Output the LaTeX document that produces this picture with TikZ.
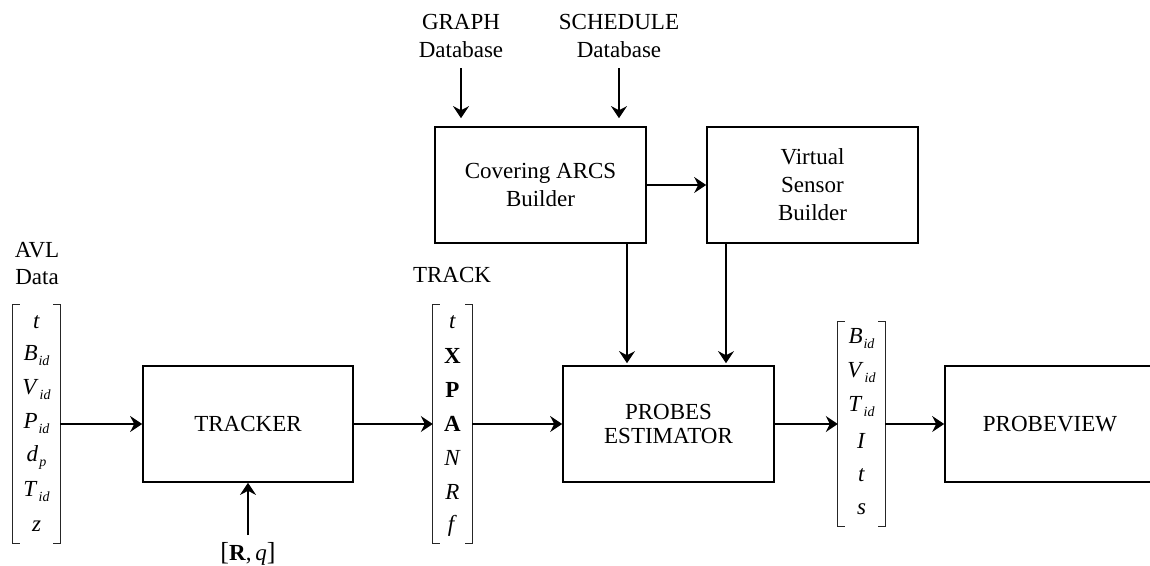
\documentclass[tikz,border=0pt]{standalone}
\usepackage{fontspec}
\setmainfont{Liberation Serif}
\usetikzlibrary{arrows.meta}
\newcommand{\vsb}[2]{\textit{#1}\hspace{1pt}\raisebox{-5pt}{\fontsize{14}{14}\selectfont\textit{#2}}}
\begin{document}
\begin{tikzpicture}[x=1pt,y=-1pt,
  box/.style={draw, line width=1.7pt, inner sep=0pt, align=center, minimum width=210, minimum height=116, font=\fontsize{23}{28}\selectfont},
  arr/.style={line width=1.5pt, -{Stealth[length=12pt,width=16pt,inset=4pt]}},
  lbl/.style={align=center, inner sep=0pt, font=\fontsize{23}{27}\selectfont},
  ent/.style={inner sep=0pt, font=\fontsize{23}{23}\selectfont},
  brk/.style={line width=1pt, black!85},
  vec/.style={inner sep=0pt}
]
\useasboundingbox (0,0) rectangle (1150,565);

% boxes
\node[box] (tracker) at (248,424) {TRACKER};
\node[box, minimum width=211, font=\fontsize{23}{24}\selectfont] (probes) at (668.5,424) {PROBES\\ESTIMATOR};
\node[box] (probeview) at (1050,424) {PROBEVIEW};
\node[box, minimum width=211] (cov) at (540.5,185) {Covering ARCS\\Builder};
\node[box, minimum width=211] (virt) at (812.5,185) {Virtual\\Sensor\\Builder};

% vectors
\node[vec, minimum width=47, minimum height=238] (avl) at (36.5,424) {};
\node[vec, minimum width=39, minimum height=238] (track) at (452.5,424) {};
\node[vec, minimum width=47, minimum height=204] (out) at (861.5,424) {};
\foreach \v in {avl,track,out}{
  \draw[brk] ([xshift=7]\v.north west) -- (\v.north west) -- (\v.south west) -- ([xshift=7]\v.south west);
  \draw[brk] ([xshift=-7]\v.north east) -- (\v.north east) -- (\v.south east) -- ([xshift=-7]\v.south east);
}
\foreach \t [count=\i from 0] in {\textit{t},\vsb{B}{id},\vsb{V}{id},\vsb{P}{id},\vsb{d}{p},\vsb{T}{id},\textit{z}}
  \node[ent] (avl-\i) at (36.5,322+34*\i) {\t};
\foreach \t [count=\i from 0] in {\textit{t},\textbf{X},\textbf{P},\textbf{A},\textit{N},\textit{R},\textit{f}}
  \node[ent] (track-\i) at (452.5,322+34*\i) {\t};
\foreach \t [count=\i from 0] in {\vsb{B}{id},\vsb{V}{id},\vsb{T}{id},\textit{I},\textit{t},\textit{s}}
  \node[ent] (out-\i) at (861.5,339+34*\i) {\t};

% labels
\node[lbl] (avllbl) at (37,264) {AVL\\Data};
\node[lbl] (tracklbl) at (452,275) {TRACK};
\node[lbl, font=\fontsize{23}{28}\selectfont] (graph) at (461,36) {GRAPH\\Database};
\node[lbl, font=\fontsize{23}{28}\selectfont] (sched) at (619,36) {SCHEDULE\\Database};
\node[lbl] (rq) at (248,554) {{\fontsize{26}{26}\selectfont[}\textbf{R},\,\textit{q}{\fontsize{26}{26}\selectfont]}};

% connectors
\coordinate (g1) at (461,68);
\coordinate (s1) at (619,68);
\coordinate (r1) at (248,535);
\draw[arr] (avl) -- (tracker);
\draw[arr] (tracker) -- (track);
\draw[arr] (track) -- (probes);
\draw[arr] (probes) -- (out);
\draw[arr] (out) -- (probeview);
\draw[arr] (cov) -- (virt);
\draw[arr, shorten >=8pt] (g1) -- (g1 |- cov.north);
\draw[arr, shorten >=8pt] (s1) -- (s1 |- cov.north);
\draw[arr] (r1) -- (tracker.south);
\draw[arr, shorten >=2pt] ([xshift=86.5]cov.south) -- ([xshift=86.5]cov.south |- probes.north);
\draw[arr, shorten >=2pt] ([xshift=-86.5]virt.south) -- ([xshift=-86.5]virt.south |- probes.north);
\end{tikzpicture}
\end{document}
